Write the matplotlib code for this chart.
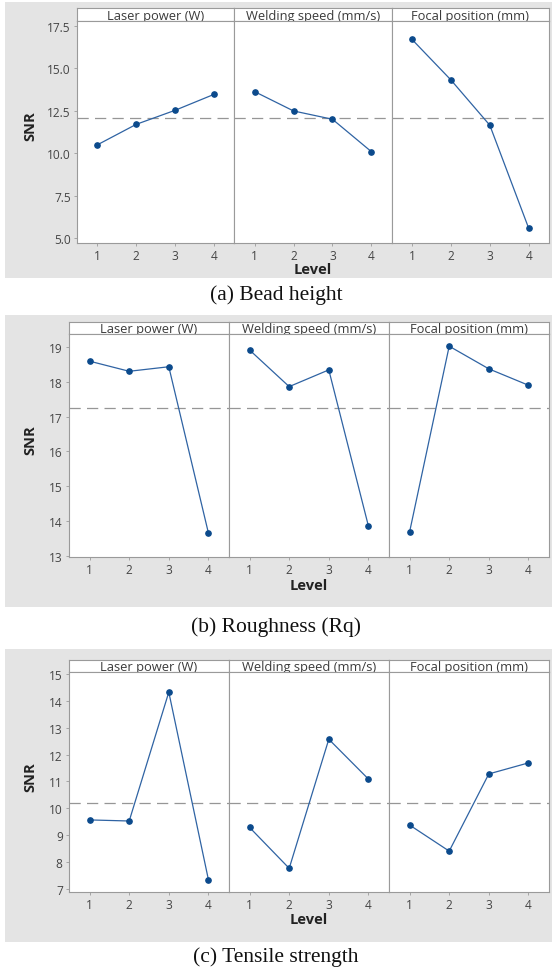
import matplotlib
matplotlib.use("Agg")
import matplotlib.pyplot as plt
from matplotlib.patches import Rectangle

# Figure size in pixels (dpi 100)
W, H = 552, 970

levels = [1, 2, 3, 4]
factors = ["Laser power (W)", "Welding speed (mm/s)", "Focal position (mm)"]

# (a) Bead height - SNR per level
bead_laser = [10.49, 11.70, 12.53, 13.47]
bead_speed = [13.63, 12.49, 12.00, 10.09]
bead_focal = [16.71, 14.32, 11.65, 5.57]
bead_mean = 12.06
bead_ticks = [5.0, 7.5, 10.0, 12.5, 15.0, 17.5]

# (b) Roughness (Rq)
rough_laser = [18.59, 18.30, 18.43, 13.66]
rough_speed = [18.91, 17.86, 18.34, 13.86]
rough_focal = [13.69, 19.02, 18.37, 17.90]
rough_mean = 17.25
rough_ticks = [13, 14, 15, 16, 17, 18, 19]

# (c) Tensile strength
tens_laser = [9.57, 9.53, 14.32, 7.35]
tens_speed = [9.29, 7.77, 12.57, 11.09]
tens_focal = [9.38, 8.41, 11.28, 11.69]
tens_mean = 10.19
tens_ticks = [7, 8, 9, 10, 11, 12, 13, 14, 15]

# layout of each block, in pixels from top-left
blocks = [
    dict(series=[bead_laser, bead_speed, bead_focal], mean=bead_mean, ticks=bead_ticks,
         fmt="{:.1f}", ylim=(4.71, 17.79), caption="(a) Bead height",
         grey=(3, 279), head=(9, 22), bottom=244, left=77, level_y=270, cap_y=295),
    dict(series=[rough_laser, rough_speed, rough_focal], mean=rough_mean, ticks=rough_ticks,
         fmt="{:.0f}", ylim=(12.97, 19.37), caption="(b) Roughness (Rq)",
         grey=(316, 608), head=(323, 335), bottom=558, left=69, level_y=586, cap_y=627),
    dict(series=[tens_laser, tens_speed, tens_focal], mean=tens_mean, ticks=tens_ticks,
         fmt="{:.0f}", ylim=(6.89, 15.07), caption="(c) Tensile strength",
         grey=(650, 943), head=(661, 673), bottom=893, left=69, level_y=920, cap_y=957),
]

RIGHT = 549
BG = "#e4e4e4"
EDGE = "#9a9a9a"
LINE = "#2f63a3"
MARK = "#0b4a8c"
SANS = "Open Sans"


def box(x0, y0, x1, y1):
    # pixel box -> figure fraction [left, bottom, width, height]
    return [x0 / W, 1 - y1 / H, (x1 - x0) / W, (y1 - y0) / H]


fig = plt.figure(figsize=(W / 100, H / 100), dpi=100)
fig.patch.set_facecolor("white")

for b in blocks:
    g0, g1 = b["grey"]
    fig.add_artist(Rectangle((5 / W, 1 - g1 / H), (W - 5) / W, (g1 - g0) / H,
                             transform=fig.transFigure, facecolor=BG,
                             edgecolor="none", zorder=-5))

    pw = (RIGHT - b["left"]) / 3
    for i in range(3):
        x0 = b["left"] + i * pw
        x1 = x0 + pw

        # header strip
        hax = fig.add_axes(box(x0, b["head"][0], x1, b["head"][1]))
        hax.set_facecolor("white")
        hax.set_xticks([])
        hax.set_yticks([])
        for s in hax.spines.values():
            s.set_color(EDGE)
            s.set_linewidth(0.8)
        hax.text(0.5, 0.45, factors[i], transform=hax.transAxes, ha="center",
                 va="center", fontsize=9.3, color="#3a3a3a", family=SANS)

        ax = fig.add_axes(box(x0, b["head"][1], x1, b["bottom"]))
        ax.set_facecolor("white")
        ax.axhline(b["mean"], color="#969696", lw=0.9, ls=(0, (9, 5)), zorder=1)
        ax.plot(levels, b["series"][i], color=LINE, lw=0.9, marker="o",
                ms=3.8, mfc=MARK, mec=MARK, zorder=3)
        ax.set_xlim(0.48, 4.52)
        ax.set_ylim(*b["ylim"])
        ax.set_xticks(levels)
        ax.set_yticks(b["ticks"])
        ax.set_yticklabels([b["fmt"].format(t) for t in b["ticks"]])
        for s in ax.spines.values():
            s.set_color(EDGE)
            s.set_linewidth(0.8)
        ax.tick_params(axis="both", length=2.5, width=0.6, color=EDGE,
                       labelsize=8.6, labelcolor="#454545", pad=2)
        ax.tick_params(axis="x", pad=1.5)
        for lab in ax.get_xticklabels() + ax.get_yticklabels():
            lab.set_family(SANS)
        if i > 0:
            ax.tick_params(axis="y", left=False, labelleft=False)
        else:
            mid = (b["head"][0] + b["bottom"]) / 2
            fig.text(30 / W, 1 - mid / H, "SNR", rotation=90, ha="center",
                     va="center", fontsize=10.5, weight="bold", color="#222222",
                     family=SANS)

    fig.text((b["left"] + RIGHT) / 2 / W, 1 - b["level_y"] / H, "Level",
             ha="center", va="center", fontsize=10.5, weight="bold",
             color="#222222", family=SANS)
    fig.text(0.5, 1 - b["cap_y"] / H, b["caption"], ha="center", va="center",
             fontsize=15.5, family="Liberation Serif", color="#111111")

fig.savefig("out.png", dpi=100)
